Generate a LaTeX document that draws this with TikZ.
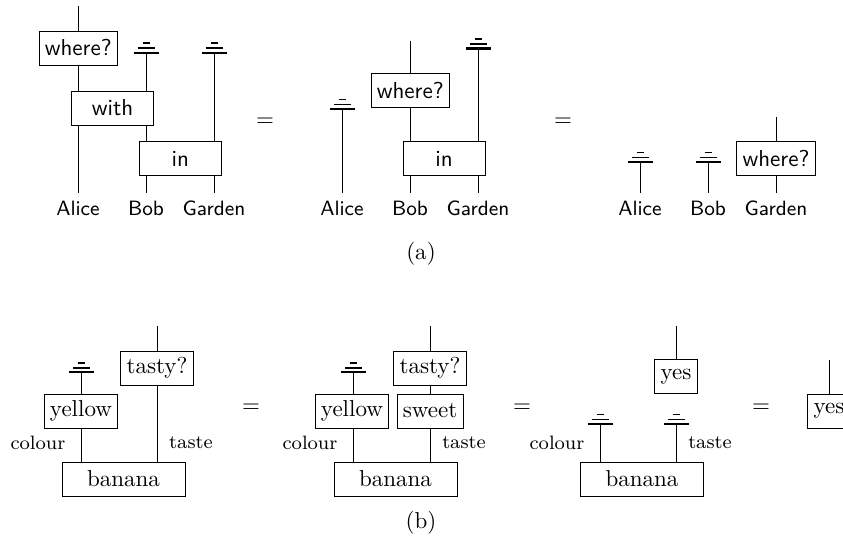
\documentclass[tikz,border=0pt]{standalone}
\usetikzlibrary{backgrounds}
\tikzset{
	box/.style={draw,fill=white,inner xsep=2.5pt,inner ysep=0pt,minimum height=14.75pt},
	sbox/.style={box,font=\sffamily},
	lab/.style={anchor=north,font=\sffamily\small,text height=6.2pt,text depth=0pt},
	type/.style={font=\fontsize{8.4}{10}\selectfont}
}
\newcommand{\discard}[2]{
	\coordinate (#1) at (#2);
	\draw [line width=.9pt] (#1)++(-12.5,0) -- ++(25,0);
	\draw [line width=.7pt] (#1)++(-8.5,4.5) -- ++(17,0);
	\draw [line width=.7pt] (#1)++(-3.5,9.5) -- ++(7,0);
}
\begin{document}
\begin{tikzpicture}[x=.434pt,y=.434pt]
	\useasboundingbox (0,0) rectangle (843,540);
	% (a)
	\node [sbox] (whereA) at (78.25,492) {where?};
	\node [sbox,minimum width=35.6pt] (withA) at (112.5,432) {with};
	\node [sbox,minimum width=35.6pt] (inA) at (180.25,381.5) {in};
	\node [lab] (aliceA) at (78,347) {Alice};
	\node [lab] (bobA) at (146,347) {Bob};
	\node [lab] (gardenA) at (214,347) {Garden};
	\coordinate (topA) at (78,534);
	\discard{dBobA}{146,487.3}
	\discard{dGardenA}{214,487.3}
	\node (eqA) at (265,418) {$=$};
	\node [sbox] (whereB) at (410.25,449.5) {where?};
	\node [sbox,minimum width=35.6pt] (inB) at (444,381.5) {in};
	\node [lab] (aliceB) at (342,347) {Alice};
	\node [lab] (bobB) at (410,347) {Bob};
	\node [lab] (gardenB) at (478,347) {Garden};
	\coordinate (topB) at (410,499);
	\discard{dAliceB}{342,431}
	\discard{dGardenB}{478,491.5}
	\node (eqB) at (563,418) {$=$};
	\node [sbox] (whereC) at (776,381.5) {where?};
	\node [lab] (aliceC) at (640,347) {Alice};
	\node [lab] (bobC) at (708,347) {Bob};
	\node [lab] (gardenC) at (776,347) {Garden};
	\coordinate (topC) at (776,423);
	\discard{dAliceC}{640,378}
	\discard{dBobC}{708,378}
	\node (capA) at (421,286) {(a)};
	% (b)
	\node [box,minimum width=53.4pt] (bananaA) at (123.5,61) {banana};
	\node [box] (yellowA) at (81,129) {yellow};
	\node [box] (tastyA) at (157,172) {tasty?};
	\node [type] (colourA) at (38,97) {colour};
	\node [type] (tasteA) at (191,97) {taste};
	\coordinate (topD) at (157,214);
	\discard{dYellowA}{81,167.7}
	\node (eqC) at (251,132) {$=$};
	\node [box,minimum width=53.4pt] (bananaB) at (395.5,61) {banana};
	\node [box] (yellowB) at (352,129) {yellow};
	\node [box] (sweetB) at (430,129) {sweet};
	\node [box] (tastyB) at (430,172) {tasty?};
	\node [type] (colourB) at (310,97) {colour};
	\node [type] (tasteB) at (464,97) {taste};
	\coordinate (topE) at (430,214);
	\discard{dYellowB}{353,167.7}
	\node (eqD) at (522,132) {$=$};
	\node [box,minimum width=53.4pt] (bananaC) at (642,61) {banana};
	\node [box] (yesC) at (676,163.5) {yes};
	\node [type] (colourC) at (557,97) {colour};
	\node [type] (tasteC) at (710,97) {taste};
	\coordinate (topF) at (676,214);
	\discard{dColourC}{600,116}
	\discard{dTasteC}{676,116}
	\node (eqE) at (761,132) {$=$};
	\node [box] (yesD) at (829,129) {yes};
	\coordinate (topG) at (829,180);
	\node (capB) at (421,17) {(b)};
	\begin{scope}[on background layer]
		\foreach \a/\b in {topA/aliceA,dBobA/bobA,dGardenA/gardenA,topB/bobB,dAliceB/aliceB,dGardenB/gardenB,topC/gardenC,dAliceC/aliceC,dBobC/bobC}
			\draw (\a) -- (\b.north);
		\foreach \a/\b in {dYellowA/bananaA,topD/bananaA,dYellowB/bananaB,topE/bananaB,dColourC/bananaC,dTasteC/bananaC,topF/yesC,topG/yesD}
			\draw (\a) -- (\a |- \b.north);
	\end{scope}
\end{tikzpicture}
\end{document}
